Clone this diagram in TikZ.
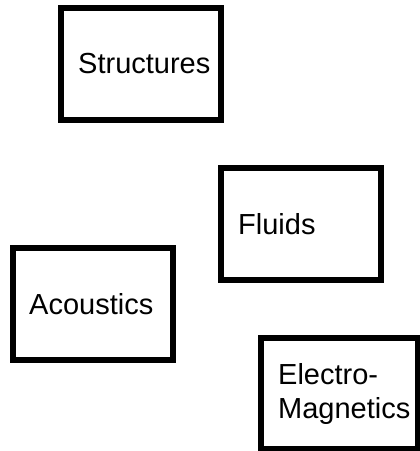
\documentclass[tikz,border=0pt]{standalone}
\usepackage{fontspec}
\setmainfont{Liberation Sans}
\usetikzlibrary{positioning}

\begin{document}
\begin{tikzpicture}[x=1pt, y=-1pt,
    box/.style={draw, line width=6pt, minimum width=160pt, minimum height=112pt, inner sep=0pt},
    lbl/.style={inner sep=0pt, align=left, font=\fontsize{29}{34}\selectfont}]
  \useasboundingbox (0,0) rectangle (420,451);
  \node[box] (S) at (141,64) {};
  \node[box] (F) at (301,224) {};
  \node[box] (A) at (93,304) {};
  \node[box, minimum width=157pt, minimum height=111pt] (E) at (339.5,393.5) {};
  \node[lbl, right=20pt of S.west] (Slbl) {Structures};
  \node[lbl, right=20pt of F.west] (Flbl) {Fluids};
  \node[lbl, right=19pt of A.west] (Albl) {Acoustics};
  \node[lbl, right=20pt of E.west] (Elbl) {Electro-\\Magnetics};
\end{tikzpicture}
\end{document}
